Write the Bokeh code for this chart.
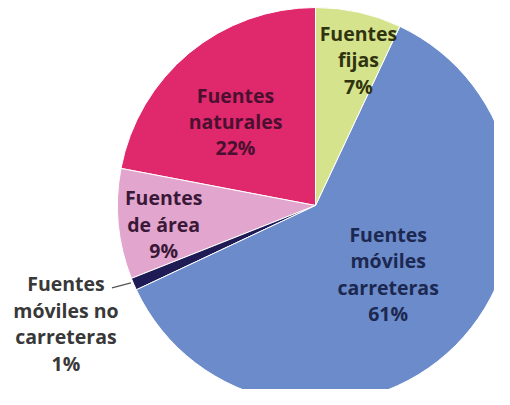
import numpy as np
from bokeh.plotting import figure
from bokeh.models import Range1d, ColumnDataSource
from bokeh.embed import file_html
from bokeh.resources import INLINE
from bokeh.core.properties import value

# Data (anticlockwise from 12 o'clock)
categories = ["Fuentes naturales", "Fuentes de área", "Fuentes móviles no carreteras",
              "Fuentes móviles carreteras", "Fuentes fijas"]
percent = [22, 9, 1, 61, 7]
label_texts = ["Fuentes\nnaturales\n22%", "Fuentes\nde área\n9%",
               "Fuentes\nmóviles no\ncarreteras\n1%",
               "Fuentes\nmóviles\ncarreteras\n61%", "Fuentes\nfijas\n7%"]

# Styles
colors = ["#e0286c", "#e2a5cd", "#1e1b55", "#6b8bcb", "#d5e38c"]
text_colors = ["#4a1030", "#3a1838", "#383838", "#1c2850", "#30330f"]
label_r = [116, 153, 276, 100, 152]          # radial distance of label centre
label_shift = [4.0, 1.7, 1.9, 1.6, -3.8]     # degrees added to mid angle

W, H = 494, 389
cx, cy, R = 315, 200, 198

p = figure(width=W, height=H, output_backend="svg", toolbar_location=None,
           x_range=Range1d(0, W), y_range=Range1d(405 - H, 405),
           min_border=0)
p.axis.visible = False
p.grid.visible = False
p.outline_line_color = None
p.background_fill_color = "white"

frac = np.array(percent) / sum(percent)
ends = np.pi / 2 + 2 * np.pi * np.cumsum(frac)
starts = np.concatenate([[np.pi / 2], ends[:-1]])
mids = (starts + ends) / 2

src = ColumnDataSource(dict(start=starts, end=ends, color=colors))
p.wedge(x=cx, y=cy, radius=R, start_angle="start", end_angle="end",
        fill_color="color", line_color="white", line_width=1, source=src)

ang = mids + np.radians(label_shift)
lx = cx + np.array(label_r) * np.cos(ang)
ly = cy + np.array(label_r) * np.sin(ang)
lsrc = ColumnDataSource(dict(x=lx, y=ly, t=label_texts, c=text_colors))
p.text(x="x", y="y", text="t", text_color="c", source=lsrc,
       text_font=value("Open Sans"), text_font_style="bold", text_font_size="19.5px",
       text_align="center", text_baseline="middle", text_line_height=0.98)

# leader line for the 1% slice
i = 2
ex = cx + (R + 2) * np.cos(mids[i]); ey = cy + (R + 2) * np.sin(mids[i])
p.line(x=[ex - 1, ex - 20], y=[ey + 2, ey - 3], line_color="#555555", line_width=1.2)

open("out.html", "w").write(file_html(p, INLINE))
